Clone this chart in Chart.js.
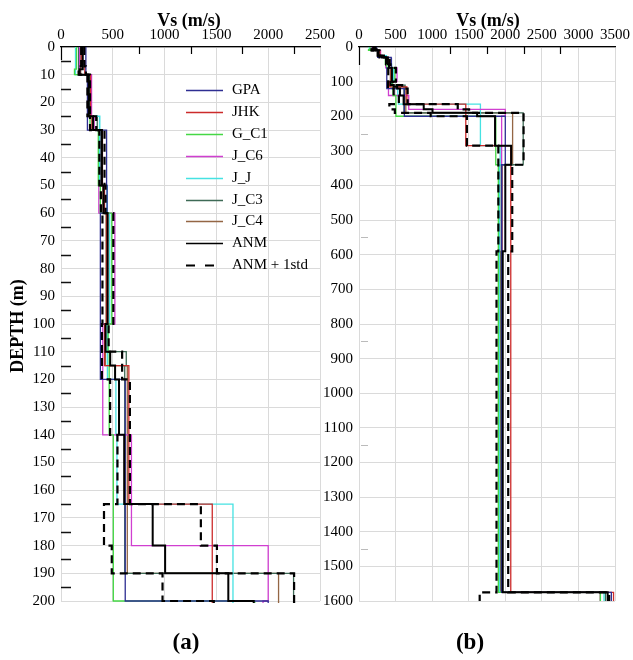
<!DOCTYPE html>
<html><head><meta charset="utf-8">
<script src="https://cdn.jsdelivr.net/npm/chart.js@4.4.0/dist/chart.umd.min.js"></script>
<style>
html,body{margin:0;padding:0;background:#fff;}
#wrap{position:relative;width:633px;height:660px;}
canvas{position:absolute;left:0;top:0;}
</style></head><body>
<div id="wrap"><canvas id="ca" width="633" height="660"></canvas><canvas id="cb" width="633" height="660"></canvas></div>
<script>
// ---- data (depth in m = layer boundaries, Vs in m/s per layer) ----
const legendNames = ['GPA','JHK','G_C1','J_C6','J_J','J_C3','J_C4','ANM','ANM + 1std'];

const gpaDepth = [0,10,30,50,60,120,200,340,1575,1600];
const gpaVs    = [240,255,440,445,380,620,2000,1950,3450];

const jhkDepth = [0,5,10,25,30,50,60,100,115,165,285,1575,1600];
const jhkVs    = [200,230,285,300,400,420,440,420,655,1460,2075,3480];

const gc1Depth = [0,8,10,25,30,50,60,100,110,140,200,340,1575,1600];
const gc1Vs    = [150,130,265,280,360,380,490,455,465,505,1870,1905,3300];

const jc6Depth = [0,10,25,30,50,60,100,140,180,200,1575,1600];
const jc6Vs    = [180,295,320,390,365,520,403,680,2000,1950,3300];

const jjDepth  = [0,10,25,30,50,60,100,110,120,140,165,285,340,1575,1600];
const jjVs     = [140,270,375,370,445,470,445,450,530,540,1660,1930,1920,3350];

const jc3Depth = [0,10,25,30,50,60,100,110,115,190,340,1575,1600];
const jc3Vs    = [170,260,350,380,415,450,430,630,615,2245,1925,3370];

const jc4Depth = [0,10,25,30,50,60,100,110,115,190,340,590,1575,1600];
const jc4Vs    = [190,275,300,395,405,435,425,430,640,2100,1960,1937,3300];

const anmDepth = [0,8,10,25,30,50,60,100,110,115,120,140,165,180,190,200,285,340,590,1575,1600];
const anmVs    = [210,180,268,310,395,410,450,430,475,522,560,610,885,1005,1615,1860,2080,2000,1965,3400];

const anmPlusDepth = [0,7,10,25,30,50,60,100,110,120,165,180,190,340,590,1575,1600];
const anmPlusVs    = [225,240,280,340,420,430,505,460,590,665,1350,1505,2250,2095,2040,3420];

const anmMinusDepth = [0,7,10,25,30,50,60,100,120,140,165,180,190,200,285,590,1575,1600];
const anmMinusVs    = [195,170,255,280,370,385,400,395,474,545,415,490,980,1475,1905,1880,1650];

// axis tick values
const vsTicksA = [0,500,1000,1500,2000,2500];
const vsTicksB = [0,500,1000,1500,2000,2500,3000,3500];
const depthTicksA = [0,10,20,30,40,50,60,70,80,90,100,110,120,130,140,150,160,170,180,190,200];
const depthTicksB = [0,100,200,300,400,500,600,700,800,900,1000,1100,1200,1300,1400,1500,1600];
const topMarksA = [750,1250,1750,2250];
const topMarksB = [1250,1750,2250,2750];
const minorDepthA = [5,15,25,35,45,55,65,75,85,95,105,115,125,135,145,155,165,175,185,195];
const minorDepthB = [250,550,850,1150,1450];

// ---- helpers ----
function steps(depths, vs){
  const pts=[];
  vs.forEach((v,i)=>{ pts.push({x:v,y:depths[i]}); pts.push({x:v,y:depths[i+1]}); });
  return pts;
}
const SERIF = "'Liberation Serif','Times New Roman',serif";
const seriesDefs = [
  {label:'ANM', d:anmDepth, v:anmVs, color:'#000000', w:2, dash:[], order:0},
  {label:'ANM + 1std', d:anmPlusDepth, v:anmPlusVs, color:'#000000', w:2.2, dash:[8,5], order:1},
  {label:'ANM - 1std', d:anmMinusDepth, v:anmMinusVs, color:'#000000', w:2.2, dash:[8,5], order:1},
  {label:'GPA', d:gpaDepth, v:gpaVs, color:'#2e2e92', w:1.3, dash:[], order:2},
  {label:'JHK', d:jhkDepth, v:jhkVs, color:'#cc2b2b', w:1.3, dash:[], order:3},
  {label:'G_C1', d:gc1Depth, v:gc1Vs, color:'#45d845', w:1.3, dash:[], order:4},
  {label:'J_C6', d:jc6Depth, v:jc6Vs, color:'#d03fd0', w:1.3, dash:[], order:5},
  {label:'J_J', d:jjDepth, v:jjVs, color:'#45e2e2', w:1.3, dash:[], order:6},
  {label:'J_C3', d:jc3Depth, v:jc3Vs, color:'#3e6a56', w:1.3, dash:[], order:7},
  {label:'J_C4', d:jc4Depth, v:jc4Vs, color:'#946644', w:1.3, dash:[], order:8}
];
function makeDatasets(){
  return seriesDefs.map(s=>({
    label:s.label, data:steps(s.d,s.v), showLine:true, pointRadius:0,
    borderColor:s.color, backgroundColor:s.color, borderWidth:s.w,
    borderDash:s.dash, order:s.order, tension:0, fill:false,
    clip:{left:0, top:0, right:2, bottom:2}
  }));
}

const decorPlugin = {
  id:'decor',
  afterDraw(chart, args, opts){
    const ctx = chart.ctx, ca = chart.chartArea;
    const xs = chart.scales.x, ys = chart.scales.y;
    ctx.save();
    // inner top tick marks
    ctx.strokeStyle = '#000'; ctx.lineWidth = 1.2; ctx.setLineDash([]);
    opts.topMarks.forEach(v=>{
      const px = Math.round(xs.getPixelForValue(v))+0.5;
      ctx.beginPath(); ctx.moveTo(px, ca.top); ctx.lineTo(px, ca.top+7); ctx.stroke();
    });
    // left axis stub
    ctx.beginPath(); ctx.moveTo(ca.left+0.5, ca.top); ctx.lineTo(ca.left+0.5, ca.top+opts.stub); ctx.stroke();
    // minor depth ticks
    ctx.strokeStyle = opts.minorColor; ctx.lineWidth = opts.minorWidth;
    opts.minor.forEach(d=>{
      const py = Math.round(ys.getPixelForValue(d))+0.5;
      ctx.beginPath(); ctx.moveTo(ca.left+opts.minorStart, py); ctx.lineTo(ca.left+opts.minorEnd, py); ctx.stroke();
    });
    // texts
    ctx.fillStyle = '#000';
    ctx.textAlign = 'center'; ctx.textBaseline = 'middle';
    ctx.font = 'bold 18px ' + SERIF;
    ctx.fillText('Vs (m/s)', opts.titleX, 21);
    ctx.font = 'bold 23px ' + SERIF;
    ctx.fillText(opts.panel, opts.panelX, 643);
    if (opts.depthTitle){
      ctx.font = 'bold 18px ' + SERIF;
      ctx.translate(18, 326); ctx.rotate(-Math.PI/2);
      ctx.fillText('DEPTH (m)', 0, 0);
    }
    ctx.restore();
  }
};

const legendPlugin = {
  id:'inlegend',
  afterDraw(chart, args, opts){
    if (!opts.show) return;
    const ctx = chart.ctx;
    ctx.save();
    ctx.font = '15px ' + SERIF;
    ctx.textAlign = 'left'; ctx.textBaseline = 'middle';
    legendNames.forEach((name,i)=>{
      const ds = chart.data.datasets.find(d=>d.label===name);
      const y = Math.round(90 + i*21.9) + 0.5;
      ctx.strokeStyle = ds.borderColor;
      ctx.lineWidth = ds.borderDash.length ? 2 : (name==='ANM'?1.6:1.5);
      ctx.setLineDash(ds.borderDash.length ? [9,10] : []);
      ctx.beginPath(); ctx.moveTo(186, y); ctx.lineTo(ds.borderDash.length ? 214 : 223, y); ctx.stroke();
      ctx.fillStyle = '#000';
      ctx.fillText(name, 232, y);
    });
    ctx.restore();
  }
};

function makeChart(id, cfg){
  return new Chart(document.getElementById(id), {
    type:'scatter',
    data:{datasets:makeDatasets()},
    options:{
      responsive:false, animation:false, devicePixelRatio:1,
      layout:{padding:cfg.padding},
      plugins:{legend:{display:false}, tooltip:{enabled:false},
        decor:cfg.decor, inlegend:{show:cfg.legend}},
      scales:{
        x:{type:'linear', position:'top', min:0, max:cfg.xmax,
          afterBuildTicks(scale){ scale.ticks = cfg.xticks.map(v=>({value:v})); },
          afterFit(scale){ scale.height = 47; },
          grid:{color:'#dadada', lineWidth:1, drawTicks:false},
          border:{display:true, color:'#000', width:1.2},
          ticks:{padding:3, color:'#000', font:{family:SERIF, size:15}, maxRotation:0, autoSkip:false,
            callback:(v)=>String(v)}
        },
        y:{type:'linear', reverse:true, min:0, max:cfg.ymax,
          afterBuildTicks(scale){ scale.ticks = cfg.yticks.map(v=>({value:v})); },
          afterFit(scale){ scale.width = cfg.yw; },
          grid:{color:'#dadada', lineWidth:1, drawTicks:false},
          border:{display:false},
          ticks:{padding:6, color:'#000', font:{family:SERIF, size:15}, autoSkip:false,
            callback:(v)=>String(v)}
        }
      }
    },
    plugins:[decorPlugin, legendPlugin]
  });
}

makeChart('ca', {
  padding:{left:0, right:313, top:0, bottom:59}, xmax:2500, ymax:200, yw:61,
  xticks:vsTicksA, yticks:depthTicksA, legend:true,
  decor:{topMarks:topMarksA, minor:minorDepthA, minorColor:'#111', minorWidth:1.5, minorStart:0, minorEnd:10,
    stub:13, titleX:189, panel:'(a)', panelX:186, depthTitle:true}
});
makeChart('cb', {
  padding:{left:300, right:15, top:0, bottom:59}, xmax:3500, ymax:1600, yw:59,
  xticks:vsTicksB, yticks:depthTicksB, legend:false,
  decor:{topMarks:topMarksB, minor:minorDepthB, minorColor:'#bbbbbb', minorWidth:1, minorStart:2, minorEnd:9,
    stub:18, titleX:488, panel:'(b)', panelX:470, depthTitle:false}
});
</script>
</body></html>
